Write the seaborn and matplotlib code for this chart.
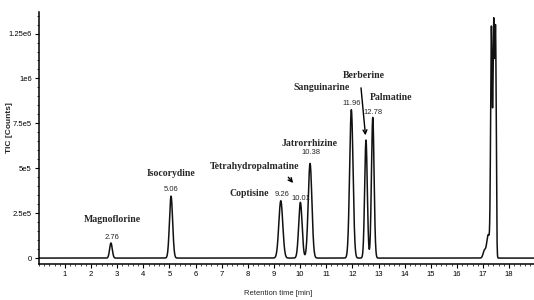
import matplotlib
matplotlib.use('Agg')
import matplotlib.pyplot as plt
from matplotlib.ticker import MultipleLocator, FixedLocator, FixedFormatter
import seaborn as sns
import numpy as np
import pandas as pd

# peaks: retention time [min], height [counts], width (sigma, min)
peak_rt = [2.76, 5.06, 9.26, 10.01, 10.38, 11.96, 12.52, 12.78,
           17.05, 17.20, 17.32, 17.41, 17.48]
peak_height = [8.4e4, 3.45e5, 3.19e5, 3.1e5, 5.27e5, 8.26e5, 6.57e5, 7.83e5,
               4.0e4, 1.3e5, 1.26e6, 1.3e6, 1.2e6]
peak_sigma = [0.05, 0.06, 0.075, 0.065, 0.07, 0.065, 0.05, 0.05,
              0.05, 0.06, 0.03, 0.03, 0.025]

# compound names and the retention times printed above the peaks
compounds = ['Magnoflorine', 'Isocorydine', 'Coptisine', 'Tetrahydropalmatine',
             'Jatrorrhizine', 'Sanguinarine', 'Berberine', 'Palmatine']
rt_labels = ['2.76', '5.06', '9.26', '10.01', '10.38', '11.96', None, '12.78']

y_ticks = [0, 2.5e5, 5e5, 7.5e5, 1e6, 1.25e6]
y_tick_labels = ['0', '2.5e5', '5e5', '7.5e5', '1e6', '1.25e6']

# build the trace
t = np.linspace(0, 18.95, 4000)
signal = np.zeros_like(t)
for rt, h, s in zip(peak_rt, peak_height, peak_sigma):
    signal += h * np.exp(-0.5 * ((t - rt) / s) ** 2)
df = pd.DataFrame({'time': t, 'tic': signal})

sns.set_style('ticks')
fig = plt.figure(figsize=(5.34, 3.0), dpi=100)
ax = fig.add_axes([0.0727, 0.12, 0.9273, 0.84])
sns.lineplot(data=df, x='time', y='tic', color='#111111', linewidth=1.1, ax=ax)

ax.set_xlim(0, 18.95)
ax.set_ylim(-3.3e4, 1.37e6)
sns.despine(ax=ax)
for sp in ['left', 'bottom']:
    ax.spines[sp].set_linewidth(1.1)
    ax.spines[sp].set_color('black')

sans = ['Liberation Sans', 'DejaVu Sans']
ax.xaxis.set_minor_locator(MultipleLocator(0.2))
ax.set_xticks(range(1, 19))
ax.set_xticklabels([str(i) for i in range(1, 19)], family=sans, fontsize=5.5)
ax.yaxis.set_major_locator(FixedLocator(y_ticks))
ax.yaxis.set_major_formatter(FixedFormatter(y_tick_labels))
ax.yaxis.set_minor_locator(MultipleLocator(5e4))
for lab in ax.get_yticklabels():
    lab.set_family(sans)
    lab.set_fontsize(5.5)
ax.tick_params(axis='both', which='major', length=3, width=0.8, pad=2, colors='black')
ax.tick_params(axis='both', which='minor', length=1.5, width=0.6)

ax.set_xlabel('Retention time [min]', family=sans, fontsize=5.5)
ax.set_ylabel('TIC [Counts]', family=sans, fontsize=6, fontweight='bold')
ax.xaxis.set_label_coords(0.483, -0.105)
ax.yaxis.set_label_coords(-0.052, 0.54)

# label positions (data coords)
name_pos = [(2.80, 2.17e5), (5.05, 4.73e5), (8.07, 3.62e5), (8.27, 5.12e5),
            (10.37, 6.4e5), (10.83, 9.47e5), (12.44, 1.019e6), (13.47, 8.96e5)]
rt_pos = [(2.80, 1.17e5), (5.05, 3.79e5), (9.30, 3.56e5), (10.03, 3.29e5),
          (10.41, 5.85e5), (11.98, 8.63e5), None, (12.78, 8.13e5)]

serif = ['Liberation Serif', 'DejaVu Serif']
for name, (x, y) in zip(compounds, name_pos):
    ax.text(x, y, name, family=serif, fontweight='bold', fontsize=7,
            ha='center', va='center')
for lab, pos in zip(rt_labels, rt_pos):
    if lab is None:
        continue
    ax.text(pos[0], pos[1], lab, family=sans, fontsize=5.5,
            ha='center', va='center')

arrow = dict(arrowstyle='->', color='black', lw=1.0, mutation_scale=7)
ax.annotate('', xy=(9.80, 4.06e5), xytext=(9.48, 4.62e5), arrowprops=arrow)
ax.annotate('', xy=(12.51, 6.68e5), xytext=(12.32, 9.63e5), arrowprops=arrow)

fig.savefig('out.png', dpi=100)
